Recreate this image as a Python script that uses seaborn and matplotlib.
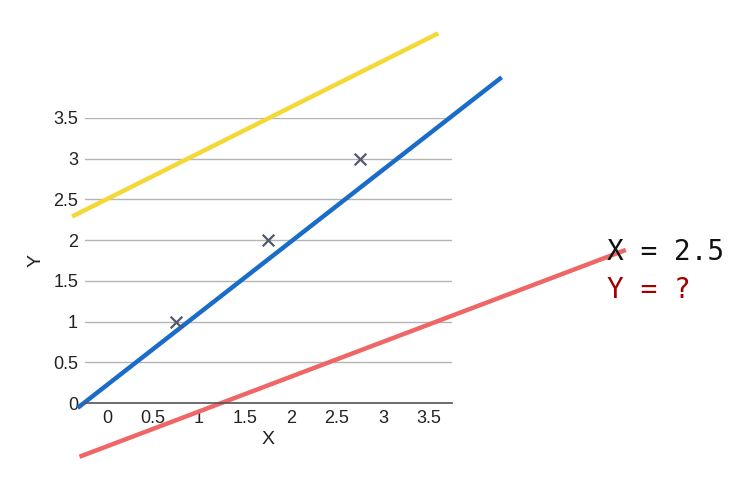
import matplotlib
matplotlib.use("Agg")
import matplotlib.pyplot as plt
import seaborn as sns
import pandas as pd

# data
point_x = [0.75, 1.75, 2.75]
point_y = [1, 2, 3]
blue_x = [-0.32, 4.29]
blue_y = [-0.06, 4.0]
yellow_x = [-0.38, 3.6]
yellow_y = [2.29, 4.54]
red_x = [-0.30, 5.64]
red_y = [-0.66, 1.88]
x_ticks = [0, 0.5, 1, 1.5, 2, 2.5, 3, 3.5]
x_tick_labels = ["0", "0.5", "1", "1.5", "2", "2.5", "3", "3.5"]
y_ticks = [0, 0.5, 1, 1.5, 2, 2.5, 3, 3.5]
y_tick_labels = ["0", "0.5", "1", "1.5", "2", "2.5", "3", "3.5"]

sns.set_style("white")
plt.rcParams['font.family'] = ['Liberation Sans', 'DejaVu Sans']

fig = plt.figure(figsize=(7.43, 4.82), dpi=100)
ax = fig.add_axes([85/743, 1-403/482, (452-85)/743, (403-118)/482])

lines = [
    (yellow_x, yellow_y, "#f3d836"),
    (blue_x, blue_y, "#1a6cc9"),
    (red_x, red_y, "#ee6666"),
]
for lx, ly, col in lines:
    df = pd.DataFrame({"x": lx, "y": ly})
    sns.lineplot(data=df, x="x", y="y", ax=ax, color=col, linewidth=3.2,
                 estimator=None, sort=False, solid_capstyle="butt")

pts = pd.DataFrame({"x": point_x, "y": point_y})
sns.scatterplot(data=pts, x="x", y="y", ax=ax, marker="x", color="#4f5a6b",
                s=70, linewidth=1.6, zorder=5)

for ln in ax.lines:
    ln.set_clip_on(False)
for c in ax.collections:
    c.set_clip_on(False)

ax.set_xlim(-0.24, 3.75)
ax.set_ylim(0, 3.5)
ax.set_xticks(x_ticks)
ax.set_xticklabels(x_tick_labels)
ax.set_yticks(y_ticks)
ax.set_yticklabels(y_tick_labels)
ax.tick_params(axis="both", length=0, labelsize=13, colors="#222222")
ax.tick_params(axis="x", pad=5)
ax.tick_params(axis="y", pad=5)
ax.grid(axis="y", color="#b4b4b4", linewidth=1)
ax.grid(axis="x", visible=False)
for s in ["top", "right", "left"]:
    ax.spines[s].set_visible(False)
ax.spines["bottom"].set_color("#555555")
ax.spines["bottom"].set_linewidth(1.2)
ax.set_axisbelow(True)
ax.set_xlabel("X", fontsize=14, color="#222222", labelpad=3)
ax.set_ylabel("Y", fontsize=14, color="#222222", labelpad=6)

fig.text(607/743, 1-252/482, "X = 2.5", fontsize=20, family="DejaVu Sans Mono",
         color="#111111", va="center", ha="left")
fig.text(607/743, 1-290/482, "Y = ?", fontsize=20, family="DejaVu Sans Mono",
         color="#a00000", va="center", ha="left")

fig.savefig("out.png", dpi=100)
